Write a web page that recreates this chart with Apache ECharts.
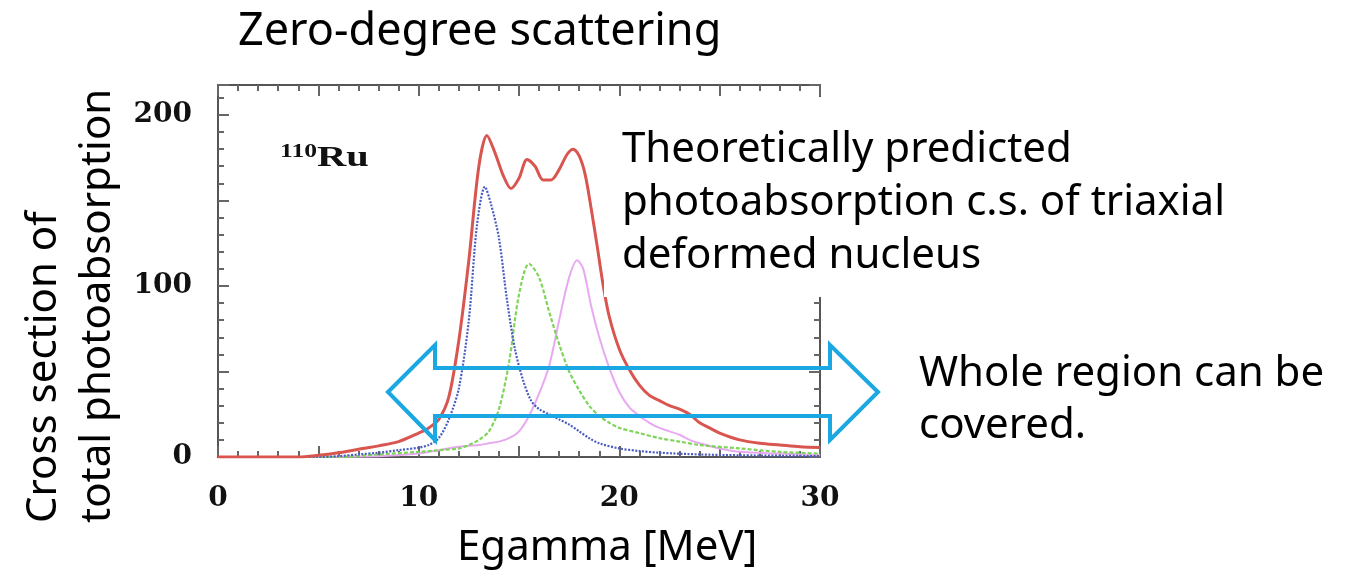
<!DOCTYPE html>
<html>
<head>
<meta charset="utf-8">
<script src="https://cdn.jsdelivr.net/npm/echarts@6/dist/echarts.min.js"></script>
<style>
  html, body { margin: 0; padding: 0; background: #fff; }
  #chart { width: 1349px; height: 577px; }
</style>
</head>
<body>
<div id="chart"></div>
<script>
// total photoabsorption (red, solid)
const totalE = [0, 4, 5, 6, 7, 8, 9, 10, 10.5, 11, 11.5, 12, 12.5, 13, 13.4, 13.8, 14.2, 14.6, 15, 15.4, 15.8, 16.2, 16.6, 17, 17.4, 17.7, 18, 18.3, 18.6, 18.9, 19.2, 19.5, 20, 20.5, 21, 21.5, 22, 22.5, 23, 23.5, 24, 24.5, 25, 26, 27, 28, 29, 30]
const totalV = [0, 0, 1, 2.5, 4.5, 6.5, 9, 14, 17, 22, 35, 68, 115, 170, 188, 178, 165, 157, 163, 174, 170, 162, 162, 168, 177, 180, 176, 165, 145, 123, 100, 82, 63, 51, 42, 36, 33, 30, 28, 25, 20, 17, 14, 10, 8, 7, 6, 5.5]

// component 1 (blue, dotted)
const comp1E = [0, 5, 6, 7, 8, 9, 10, 10.5, 11, 11.5, 12, 12.5, 12.9, 13.3, 13.6, 14, 14.4, 14.8, 15.2, 15.6, 16, 16.5, 17, 17.5, 18, 18.5, 19, 20, 21, 22, 24, 26, 30]
const comp1V = [0, 0, 0.5, 1.5, 2.5, 4, 5.5, 7, 11, 22, 40, 80, 135, 158, 148, 128, 92, 63, 45, 33, 28, 25, 22, 19, 15, 11, 8, 5, 3.5, 2.5, 1.5, 1, 0.5]

// component 2 (green, dashed)
const comp2E = [0, 6, 8, 10, 11, 12, 12.5, 13, 13.5, 14, 14.5, 15, 15.5, 16, 16.5, 17, 17.5, 18, 18.5, 19, 19.5, 20, 21, 22, 23, 24, 26, 28, 30]
const comp2V = [0, 0, 1.5, 3, 4, 5, 7, 10, 15, 28, 55, 95, 113, 105, 85, 66, 50, 39, 30, 24, 20, 17, 14, 11, 9, 7, 5, 3, 2]

// component 3 (pink, solid)
const comp3E = [0, 8, 10, 11, 12, 13, 13.5, 14, 14.5, 15, 15.5, 16, 16.5, 17, 17.5, 17.9, 18.2, 18.6, 19, 19.5, 20, 20.5, 21, 21.5, 22, 22.5, 23, 23.5, 24, 25, 26, 28, 30]
const comp3V = [0, 0.5, 2, 4, 6, 7, 8, 9, 11, 15, 24, 37, 53, 80, 105, 115, 110, 88, 70, 52, 38, 29, 24, 20, 17, 15, 13, 10, 8, 5, 3, 2, 1]

const xLabels = [0, 10, 20, 30]
const yLabels = [0, 100, 200]

const pairs = (xs, ys) => xs.map((x, i) => [x, ys[i]])

const chart = echarts.init(document.getElementById('chart'))

const tickFont = {
  fontFamily: 'DejaVu Serif',
  fontWeight: 'bold',
  fontSize: 28,
  color: '#111'
}
const axisLine = { show: true, onZero: false, lineStyle: { color: '#555', width: 2 } }
const tickStyle = { color: '#666', width: 2 }
const textFont = 'Noto Sans'

const xBase = {
  type: 'value',
  min: 0,
  max: 30,
  interval: 5,
  axisLine,
  axisTick: { show: true, inside: true, length: 11, lineStyle: tickStyle },
  minorTick: { show: true, splitNumber: 5, length: 6, lineStyle: tickStyle },
  splitLine: { show: false }
}
const yBase = {
  type: 'value',
  min: 0,
  max: 217.5,
  interval: 50,
  axisLine,
  axisTick: { show: true, inside: true, length: 11, lineStyle: tickStyle },
  minorTick: { show: true, splitNumber: 5, length: 6, lineStyle: tickStyle },
  splitLine: { show: false }
}

const option = {
  backgroundColor: '#fff',
  animation: false,
  title: {
    text: 'Zero-degree scattering',
    left: 233,
    top: 5,
    textStyle: { fontFamily: textFont, fontSize: 45, fontWeight: 'normal', color: '#000' }
  },
  grid: { left: 218, right: 529, top: 85, bottom: 120 },
  xAxis: [
    {
      ...xBase,
      position: 'bottom',
      axisLabel: {
        ...tickFont,
        margin: 28,
        formatter: v => (xLabels.includes(v) ? String(v) : '')
      }
    },
    { ...xBase, position: 'top', axisLabel: { show: false } }
  ],
  yAxis: [
    {
      ...yBase,
      position: 'left',
      axisLabel: {
        ...tickFont,
        margin: 26,
        formatter: v => (yLabels.includes(v) ? String(v) : '')
      }
    },
    { ...yBase, position: 'right', axisLabel: { show: false } }
  ],
  series: [
    {
      name: 'comp3',
      type: 'line',
      data: pairs(comp3E, comp3V),
      smooth: 0.3,
      symbol: 'none',
      lineStyle: { color: '#e8a9f2', width: 2 }
    },
    {
      name: 'comp2',
      type: 'line',
      data: pairs(comp2E, comp2V),
      smooth: 0.3,
      symbol: 'none',
      lineStyle: { color: '#7fd45a', width: 2.2, type: [4, 2] }
    },
    {
      name: 'comp1',
      type: 'line',
      data: pairs(comp1E, comp1V),
      smooth: 0.3,
      symbol: 'none',
      lineStyle: { color: '#4a5cc0', width: 2.2, type: [2, 1.5] }
    },
    {
      name: 'total',
      type: 'line',
      data: pairs(totalE, totalV),
      smooth: 0.3,
      symbol: 'none',
      lineStyle: { color: '#d9554f', width: 3 }
    }
  ],
  graphic: [
    // white box behind the annotation text
    {
      type: 'rect',
      z: 50,
      shape: { x: 604, y: 97, width: 680, height: 200 },
      style: { fill: '#fff' }
    },
    {
      type: 'text',
      z: 51,
      x: 622,
      y: 124,
      style: {
        text: 'Theoretically predicted\nphotoabsorption c.s. of triaxial\ndeformed nucleus',
        font: '42px "Noto Sans"',
        lineHeight: 53,
        fill: '#000'
      }
    },
    {
      type: 'text',
      z: 51,
      x: 919,
      y: 348,
      style: {
        text: 'Whole region can be\ncovered.',
        font: '42px "Noto Sans"',
        lineHeight: 52,
        fill: '#000'
      }
    },
    {
      type: 'text',
      z: 51,
      x: 280,
      y: 143,
      scaleX: 1.35,
      style: {
        text: '{s|110}{b|Ru}',
        rich: {
          s: { fontFamily: 'Liberation Serif', fontWeight: 'bold', fontSize: 19, verticalAlign: 'top', padding: [0, 0, 12, 0], fill: '#111' },
          b: { fontFamily: 'Liberation Serif', fontWeight: 'bold', fontSize: 30, fill: '#111' }
        }
      }
    },
    // axis titles
    {
      type: 'text',
      z: 51,
      x: 457,
      y: 548,
      style: {
        text: 'Egamma [MeV]',
        font: '42px "Noto Sans"',
        textVerticalAlign: 'middle',
        fill: '#000'
      }
    },
    {
      type: 'text',
      z: 51,
      x: 44,
      y: 523,
      rotation: Math.PI / 2,
      style: {
        text: 'Cross section of',
        font: '42px "Noto Sans"',
        textAlign: 'left',
        textVerticalAlign: 'middle',
        fill: '#000'
      }
    },
    {
      type: 'text',
      z: 51,
      x: 98,
      y: 523,
      rotation: Math.PI / 2,
      style: {
        text: 'total photoabsorption',
        font: '42px "Noto Sans"',
        textAlign: 'left',
        textVerticalAlign: 'middle',
        fill: '#000'
      }
    },
    // double-headed outline arrow
    {
      type: 'polygon',
      z: 60,
      shape: {
        points: [
          [388, 392], [435, 345], [435, 368], [830, 368], [830, 345], [878, 392],
          [830, 440], [830, 416], [435, 416], [435, 440]
        ]
      },
      style: { fill: 'none', stroke: '#1aa8e2', lineWidth: 4 }
    }
  ]
}

chart.setOption(option)
</script>
</body>
</html>
